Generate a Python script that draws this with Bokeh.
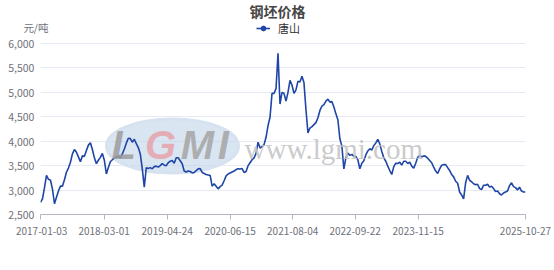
import pandas as pd
from bokeh.plotting import figure
from bokeh.models import (Range1d, FixedTicker, DatetimeTickFormatter,
                          Label, Legend, LegendItem, ColumnDataSource)
from bokeh.embed import file_html
from bokeh.resources import INLINE

title_text = "钢坯价格"
series_name = "唐山"
unit_text = "元/吨"
start_date = "2017-01-03"
end_date = "2025-10-27"
tick_dates = ["2017-01-03", "2018-03-01", "2019-04-24", "2020-06-15",
              "2021-08-04", "2022-09-22", "2023-11-15", "2025-10-27"]
y_ticks = [2500, 3000, 3500, 4000, 4500, 5000, 5500, 6000]

price = [
    2750, 2820, 3050, 3300, 3220, 3200, 3020, 2720, 2855, 2980,
    3080, 3080, 3210, 3365, 3450, 3570, 3740, 3830, 3775, 3680,
    3580, 3700, 3690, 3810, 3920, 3970, 3830, 3660, 3540, 3610,
    3670, 3750, 3610, 3330, 3460, 3580, 3620, 3660, 3670, 3700,
    3660, 3740, 3840, 3960, 4060, 4055, 3980, 4040, 3950, 3870,
    3740, 3435, 3060, 3460, 3440, 3460, 3435, 3480, 3490, 3470,
    3500, 3540, 3510, 3500, 3560, 3590, 3605, 3550, 3660, 3660,
    3600, 3540, 3390, 3370, 3390, 3380, 3350, 3360, 3400, 3435,
    3440, 3360, 3340, 3320, 3310, 3300, 3080, 3130, 3080, 3025,
    3070, 3100, 3190, 3290, 3330, 3350, 3370, 3390, 3420, 3435,
    3430, 3440, 3360, 3380, 3500, 3560, 3620, 3660, 3750, 3980,
    3860, 3890, 3930, 4080, 4320, 4490, 4980, 4980, 5075, 5800,
    4760, 5000, 4980, 4820, 5000, 5245, 5150, 4980, 5050, 5230,
    5210, 5330, 5200, 4650, 4170, 4270, 4300, 4340, 4380, 4480,
    4630, 4720, 4750, 4820, 4860, 4800, 4810, 4700, 4560, 4440,
    4050, 3900, 3435, 3660, 3760, 3710, 3730, 3690, 3690, 3620,
    3435, 3550, 3600, 3720, 3800, 3845, 3820, 3910, 3965, 4040,
    3945, 3790, 3660, 3590, 3490, 3400, 3320, 3480, 3550, 3545,
    3570, 3510, 3590, 3590, 3545, 3570, 3490, 3450, 3550, 3670,
    3710, 3680, 3700, 3690, 3650, 3605, 3560, 3470, 3390, 3340,
    3435, 3510, 3520, 3520, 3460, 3400, 3320, 3270, 3180, 3140,
    2960, 2900, 2820, 3150, 3300, 3200, 3170, 3130, 3110, 3120,
    3030, 3010, 3100, 3100, 3120, 3060, 3080, 3030, 2970, 2980,
    2925, 2900, 2940, 2960, 2980, 3090, 3150, 3070, 3050, 3000,
    3060, 2980, 2960, 2960,
]

dates = pd.date_range(start_date, end_date, periods=len(price))
src = ColumnDataSource(dict(x=dates, y=price))

def ms(d):
    return pd.Timestamp(d).value / 1e6

FONT = "Noto Sans CJK SC"
NBSP = "\u00a0"

# frame reaches the top edge so the title/legend labels are not clipped
p = figure(width=554, height=270, output_backend="svg", toolbar_location=None,
           x_axis_type="datetime",
           x_range=Range1d(ms(start_date), ms(end_date)),
           y_range=Range1d(2500, 6880),
           min_border_left=40, min_border_right=29, min_border_top=0, min_border_bottom=56)
p.outline_line_color = None
p.background_fill_color = "white"
p.border_fill_color = "white"

# watermark
p.ellipse(x=[ms("2019-05-29")], y=[3900], width=[132], height=[54],
          width_units="screen", height_units="screen",
          fill_color="#bcd0e8", fill_alpha=0.55, line_color="#d6e2f0", line_width=3)
for txt, dx, col in [("L", "2018-07-10", "#9c9c9c"), ("G", "2019-03-10", "#e7a3ab"),
                     ("M", "2019-11-10", "#a4a4a4"), ("I", "2020-05-01", "#a4a4a4")]:
    p.add_layout(Label(x=ms(dx), y=3930, text=txt, text_align="center", text_baseline="middle",
                       text_font="Arial", text_font_style="bold italic", text_font_size="40px",
                       text_color=col, text_alpha=0.85))
p.add_layout(Label(x=ms("2020-09-18"), y=3850, text="www.lgmi.com", text_align="left",
                   text_baseline="middle", text_font="Liberation Serif", text_font_size="29px",
                   text_color="#c4c4c4", text_alpha=0.9))

line_r = p.line("x", "y", source=src, line_color="#1f46a6", line_width=1.6)
legend_marker = p.scatter(x=[ms(start_date)], y=[0], size=7,
                          fill_color="#1f46a6", line_color="#1f46a6")

p.xgrid.grid_line_color = None
p.ygrid.grid_line_color = "#e6ebf3"
p.ygrid.ticker = FixedTicker(ticks=y_ticks)

# y axis: numbers padded on the right so that the unit label (extra tick near the top)
# can reach into the plot area like the reference
unit_pos = 6330
p.yaxis.ticker = FixedTicker(ticks=y_ticks + [unit_pos])
overrides = {v: f"{v:,}" + NBSP * 6 for v in y_ticks}
overrides[unit_pos] = unit_text
p.yaxis.major_label_overrides = overrides
p.yaxis.axis_line_color = None
p.yaxis.major_tick_line_color = None
p.yaxis.minor_tick_line_color = None
p.yaxis.major_label_standoff = -14
p.yaxis.major_label_text_font = FONT
p.yaxis.major_label_text_font_size = "10.5px"
p.yaxis.major_label_text_color = "#6e7079"

p.xaxis.ticker = FixedTicker(ticks=[ms(d) for d in tick_dates])
fmt = "%Y-%m-%d"
p.xaxis.formatter = DatetimeTickFormatter(milliseconds=fmt, seconds=fmt, minsec=fmt, minutes=fmt,
                                          hourmin=fmt, hours=fmt, days=fmt, months=fmt, years=fmt)
p.xaxis.major_label_overrides = {ms(tick_dates[0]): NBSP + tick_dates[0]}
p.xaxis.axis_line_color = "#b5b8c0"
p.xaxis.major_tick_line_color = "#b5b8c0"
p.xaxis.major_tick_out = 5
p.xaxis.major_tick_in = 0
p.xaxis.minor_tick_line_color = None
p.xaxis.major_label_standoff = 3
p.xaxis.major_label_text_font = FONT
p.xaxis.major_label_text_font_size = "10px"
p.xaxis.major_label_text_color = "#6e7079"

p.add_layout(Label(x=237, y=204, x_units="screen", y_units="screen", text=title_text,
                   text_align="center", text_baseline="middle", text_font=FONT,
                   text_font_style="bold", text_font_size="14px", text_color="#464646"))

legend = Legend(items=[LegendItem(label=series_name, renderers=[line_r, legend_marker])],
                location=(216, 178), orientation="horizontal",
                background_fill_alpha=0, border_line_color=None,
                glyph_width=14, glyph_height=12, label_standoff=8, padding=0, margin=0,
                label_text_font=FONT, label_text_font_size="11px",
                label_text_color="#333333")
p.add_layout(legend, "center")

open("out.html", "w").write(file_html(p, INLINE))
